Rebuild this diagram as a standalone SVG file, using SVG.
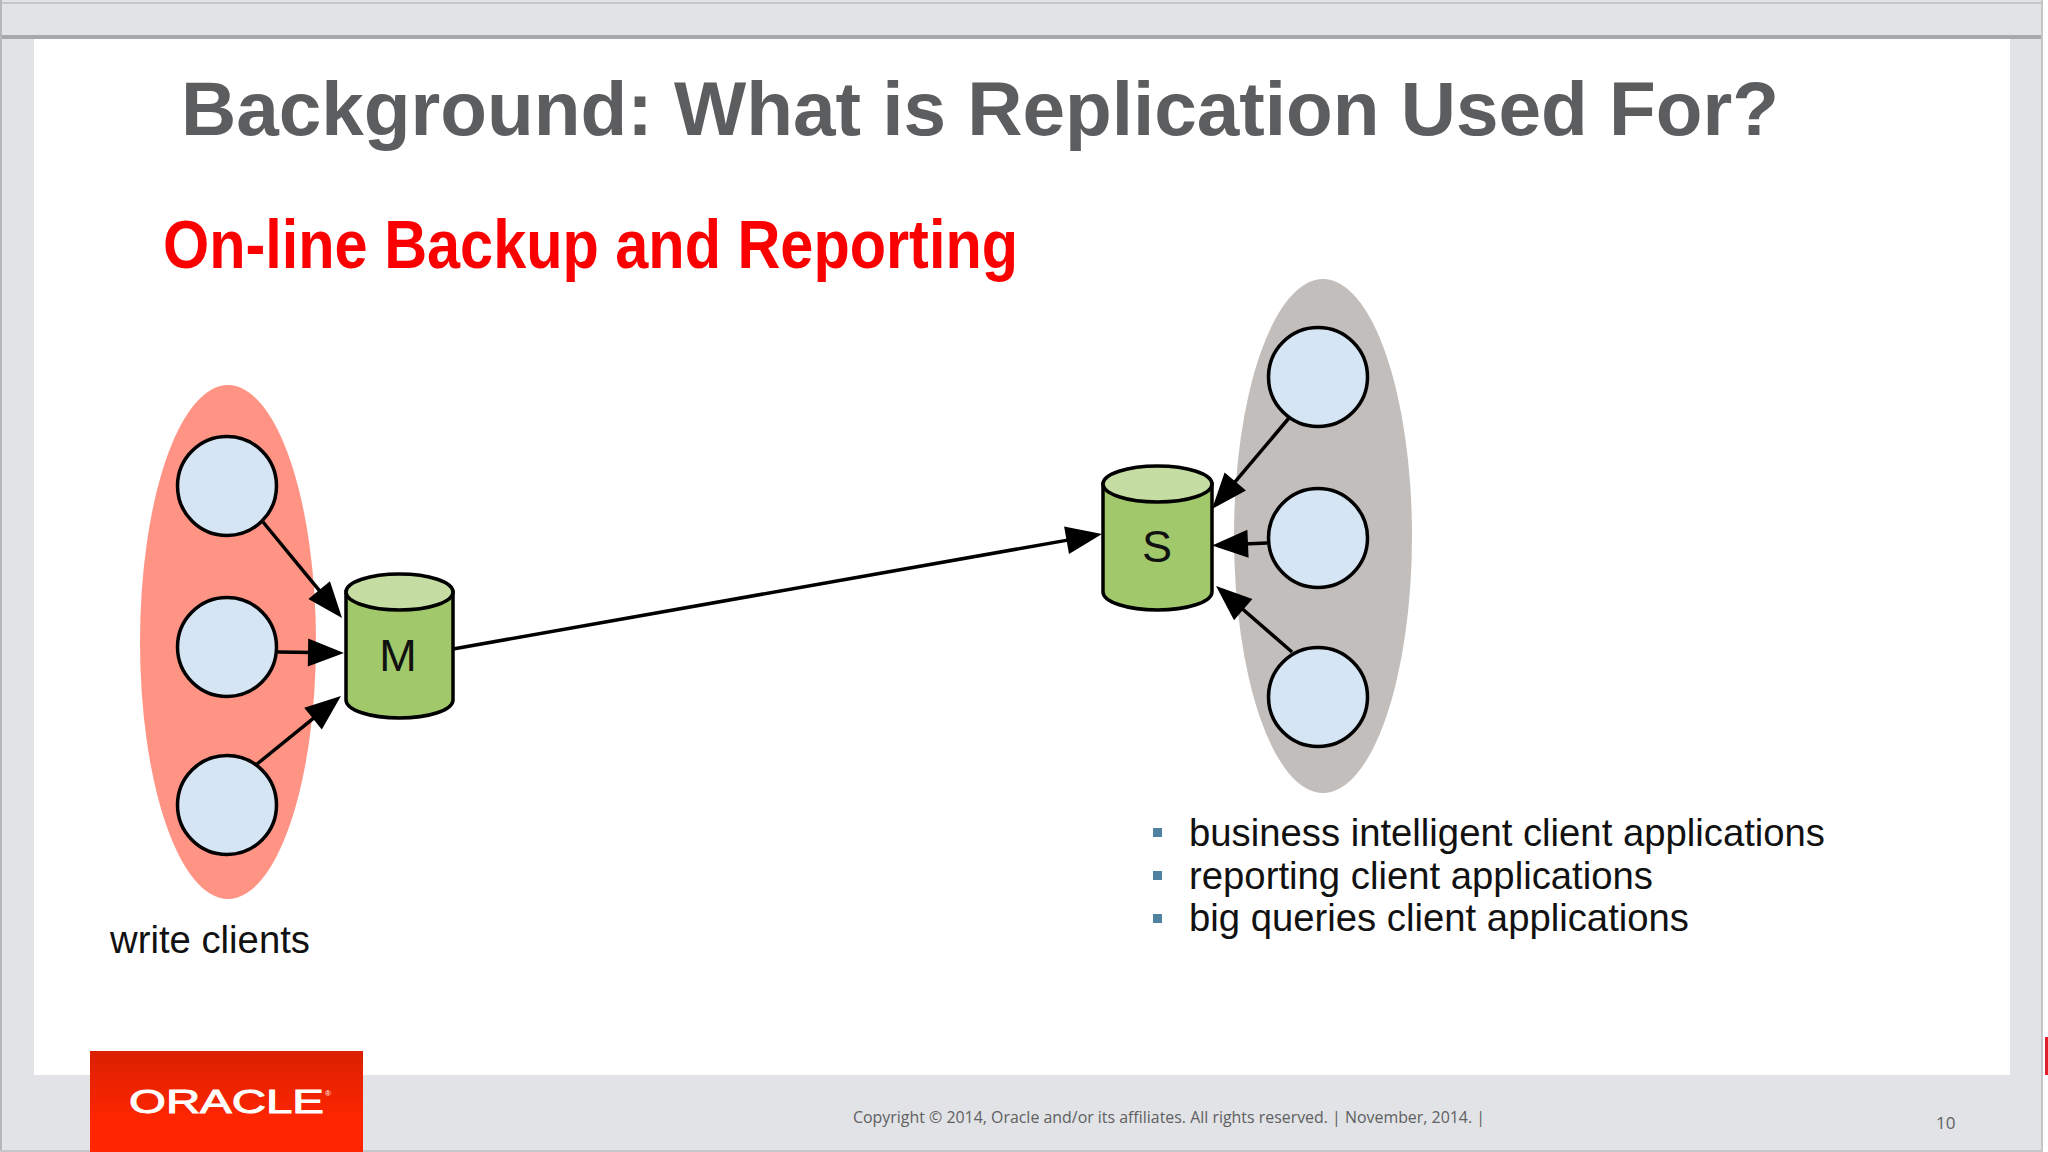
<svg xmlns="http://www.w3.org/2000/svg" width="2048" height="1152" viewBox="0 0 2048 1152">
<style>
.sans{font-family:"Liberation Sans",Arial,sans-serif}
.body{font-size:39px;fill:#111}
.circle{fill:#d6e5f3;stroke:#000;stroke-width:3.500}
.cyl{fill:#a1c96c;stroke:#000;stroke-width:3.500}
.cyltop{fill:#c5dda2;stroke:#000;stroke-width:3.500}
.label{font-size:45px;fill:#111;text-anchor:middle}
.conn{stroke:#000;stroke-width:3.500;fill:none;marker-end:url(#head)}
.bullet{fill:#4f81a0}
.foot{font-family:"Open Sans","Liberation Sans",sans-serif;fill:#5f6062}
</style>
<defs>
<marker id="head" markerUnits="userSpaceOnUse" markerWidth="40" markerHeight="30" refX="4" refY="14" orient="auto" overflow="visible"><path d="M0 0L36 14L0 28Z" fill="#000"/></marker>
<linearGradient id="logo" x1="0" y1="0" x2="0" y2="1"><stop offset="0" stop-color="#da2000"/><stop offset=".7" stop-color="#ff2600"/></linearGradient>
</defs>
<rect width="2048" height="1152" fill="#e1e3e6"/>
<rect x="34" y="38" width="1976" height="1037" fill="#fff"/>
<rect x="0" y="35" width="2048" height="4" fill="#a6a8aa"/>
<rect x="0" y="2" width="2042" height="2" fill="#c4c6c8"/>
<rect x="0" y="0" width="2" height="1152" fill="#b5b7b9"/>
<rect x="2041" y="0" width="2" height="1152" fill="#c4c6c8"/>
<rect x="2043" y="0" width="5" height="1152" fill="#fff"/>
<rect x="2045" y="1037" width="3" height="38" fill="#e0202a"/>
<rect x="0" y="1150" width="2042" height="2" fill="#c4c6c8"/>

<text class="sans" x="181" y="135" font-size="76" font-weight="700" fill="#5c5d5f" textLength="1598" lengthAdjust="spacingAndGlyphs">Background: What is Replication Used For?</text>
<text class="sans" x="163" y="268" font-size="68" font-weight="700" fill="#fb0000" textLength="855" lengthAdjust="spacingAndGlyphs">On-line Backup and Reporting</text>

<ellipse id="write-group" cx="228" cy="642" rx="88" ry="257" fill="#ff9485"/>
<ellipse id="read-group" cx="1323" cy="536" rx="89" ry="257" fill="#c2bebb"/>

<g id="client-w1"><circle class="circle" cx="227" cy="486" r="49.500"/></g>
<g id="client-w2"><circle class="circle" cx="227" cy="647" r="49.500"/></g>
<g id="client-w3"><circle class="circle" cx="227" cy="805" r="49.500"/></g>
<g id="client-r1"><circle class="circle" cx="1318" cy="377" r="49.500"/></g>
<g id="client-r2"><circle class="circle" cx="1318" cy="538" r="49.500"/></g>
<g id="client-r3"><circle class="circle" cx="1318" cy="697" r="49.500"/></g>

<g id="master">
<path class="cyl" d="M346 592V700C346 710 370 718 399.500 718S453 710 453 700V592Z"/>
<ellipse class="cyltop" cx="399.500" cy="592" rx="53.500" ry="18"/>
<text class="sans label" x="398" y="671">M</text>
</g>
<g id="slave">
<path class="cyl" d="M1103 484V592C1103 602 1128 610 1157.500 610S1212 602 1212 592V484Z"/>
<ellipse class="cyltop" cx="1157.500" cy="484" rx="54.500" ry="18"/>
<text class="sans label" x="1157" y="562">S</text>
</g>

<g id="connectors">
<line class="conn" x1="263" y1="522" x2="321.700" y2="593.300"/>
<line class="conn" x1="278" y1="652" x2="312" y2="652.500"/>
<line class="conn" x1="257" y1="764" x2="316.100" y2="716.100"/>
<line class="conn" x1="453" y1="649" x2="1070.500" y2="539.600"/>
<line class="conn" x1="1289" y1="418" x2="1232.700" y2="484.600"/>
<line class="conn" x1="1267" y1="543" x2="1244" y2="544"/>
<line class="conn" x1="1292" y1="652" x2="1240.200" y2="607"/>
</g>

<rect class="bullet" x="1153" y="828" width="9" height="9"/>
<rect class="bullet" x="1153" y="871" width="9" height="9"/>
<rect class="bullet" x="1153" y="914" width="9" height="9"/>
<text class="sans body" x="1189" y="846" textLength="636" lengthAdjust="spacingAndGlyphs">business intelligent client applications</text>
<text class="sans body" x="1189" y="889" textLength="464" lengthAdjust="spacingAndGlyphs">reporting client applications</text>
<text class="sans body" x="1189" y="931" textLength="500" lengthAdjust="spacingAndGlyphs">big queries client applications</text>
<text class="sans body" x="110" y="953" textLength="200" lengthAdjust="spacingAndGlyphs">write clients</text>

<rect x="90" y="1051" width="273" height="101" fill="url(#logo)"/>
<text class="sans" x="129" y="1113" font-size="34" fill="#fff" stroke="#fff" stroke-width="1" textLength="195" lengthAdjust="spacingAndGlyphs">ORACLE</text>
<text class="sans" x="325" y="1096" font-size="8" fill="#fff">®</text>

<text class="foot" x="853" y="1123" font-size="15.500" textLength="632" lengthAdjust="spacingAndGlyphs">Copyright © 2014, Oracle and/or its affiliates. All rights reserved.  |  November, 2014.   |</text>
<text class="foot" x="1936" y="1129" font-size="17">10</text>
</svg>
